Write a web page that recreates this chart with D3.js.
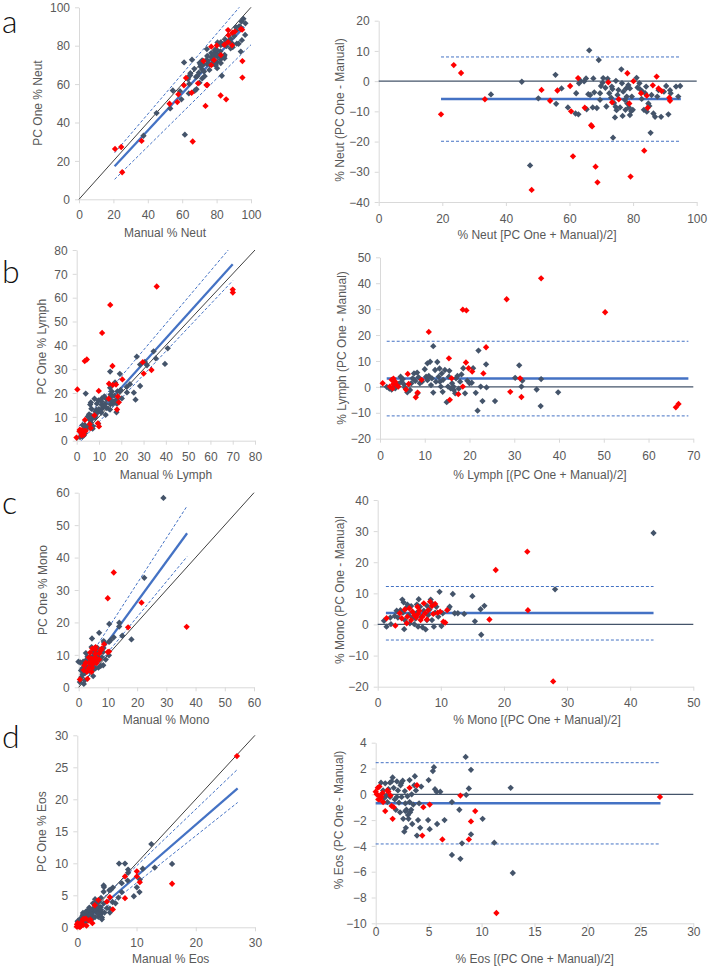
<!DOCTYPE html>
<html>
<head>
<meta charset="utf-8">
<script src="https://cdn.jsdelivr.net/npm/d3@7"></script>
<style>
  body { margin: 0; background: #fff; }
  svg text { font-family: "Liberation Sans", Arial, sans-serif; fill: #595959; }
</style>
</head>
<body>
<div id="chart"></div>
<script>
// Bland-Altman points, [mean, PC One - Manual].
// The scatter plots on the left use the same pairs.
const neutDark = [[35.3,-4.4],[45.0,-0.2],[47.6,-27.9],[50.2,-5.7],[55.6,2.1],[55.8,-7.5],[57.5,-2.4],[59.5,-8.7],[62.1,-4.0],[61.9,-10.7],[62.8,-11.0],[63.0,-0.7],[63.5,0.1],[64.6,-0.1],[65.2,0.9],[65.4,-9.3],[65.9,-4.3],[66.2,10.2],[66.5,-4.6],[67.3,-8.7],[67.5,0.9],[67.8,-3.7],[68.6,-8.9],[69.2,7.0],[69.6,-4.0],[69.9,-1.6],[70.4,-0.5],[70.6,1.0],[71.3,-2.2],[71.6,-8.4],[72.0,0.8],[72.5,-4.0],[73.1,-5.5],[73.5,-2.6],[73.7,-18.7],[74.0,-7.2],[74.3,-12.0],[74.5,-8.5],[74.6,0.1],[75.1,-4.6],[75.4,-2.9],[75.9,-8.7],[76.3,3.9],[76.5,-0.7],[76.7,-11.5],[76.9,-3.5],[77.4,-6.2],[77.6,-9.5],[77.8,-2.4],[78.0,-5.1],[78.2,-7.4],[78.5,-1.3],[78.7,-8.7],[79.0,-11.2],[79.4,-9.9],[79.6,-5.1],[79.9,-9.5],[81.1,1.1],[81.4,-2.1],[82.0,-0.7],[82.2,-2.7],[82.7,-5.9],[83.0,-3.5],[83.4,-9.5],[83.8,-4.0],[84.1,-1.8],[84.8,-7.4],[85.1,-8.2],[85.5,-17.1],[85.8,-4.6],[86.4,-10.7],[86.9,-11.8],[87.6,-5.1],[88.0,-3.0],[88.8,-11.8],[90.4,-1.6],[91.1,-11.0],[91.6,-3.0],[91.8,-4.0],[93.5,-1.8],[94.2,-5.1],[94.8,-1.6],[73.3,-1.8],[69.6,-6.2],[74.8,-9.6],[79.0,-2.4],[84.3,-10.1],[89.7,-3.5]];
const neutRed = [[19.6,-11.0],[23.6,5.3],[25.9,2.7],[33.4,-6.0],[48.1,-36.0],[51.2,-2.9],[53.9,-6.5],[56.2,-3.1],[60.2,-1.6],[60.5,-10.0],[61.1,-24.9],[62.7,1.0],[64.8,-8.8],[66.8,-14.6],[67.1,-15.0],[68.2,-28.3],[68.8,-33.5],[72.2,-0.4],[73.4,-7.0],[75.5,-6.0],[78.2,2.6],[78.8,-7.4],[79.2,-31.6],[80.1,0],[82.5,-4.0],[83.5,-23.0],[84.3,-4.8],[84.6,-8.8],[86.2,-1.4],[87.4,1.5],[88.0,-2.4],[89.0,-3.3],[91.4,-5.5],[91.6,-6.5]];

const lymphDark = [[1.5,0],[2.1,-0.7],[2.6,-1.0],[3.4,-0.6],[4.1,1.1],[4.6,3.9],[4.8,2.0],[5.1,3.0],[5.4,0.9],[5.6,-0.3],[6.1,-2.1],[6.7,-1.2],[7.0,1.4],[7.6,5.2],[7.9,2.3],[8.3,5.5],[8.6,3.7],[8.9,1.4],[9.4,2.0],[10.0,6.8],[10.3,3.9],[10.6,9.1],[10.9,4.2],[11.2,9.7],[11.4,0.7],[11.6,3.3],[11.9,15.7],[11.9,-2.2],[12.3,6.5],[12.5,2.0],[12.8,9.6],[13.1,3.9],[13.3,7.1],[13.6,0.1],[13.8,5.2],[14.0,-1.9],[14.1,2.7],[14.5,6.5],[14.9,-5.9],[15.2,0.1],[15.4,3.9],[15.5,6.2],[15.8,-0.6],[16.1,1.4],[16.4,0.1],[16.5,-1.2],[16.8,-2.5],[17.0,3.3],[17.3,4.2],[17.6,-0.7],[18.2,4.8],[18.6,7.2],[19.0,-2.5],[19.5,2.4],[20.0,1.4],[20.5,1.6],[20.8,7.2],[21.4,-2.3],[21.8,-9.2],[22.0,14.0],[22.5,0.1],[22.9,-5.5],[23.7,8.7],[23.8,-0.2],[25.7,-5.5],[30.2,3.5],[31.1,8.3],[31.6,0.1],[31.8,2.4],[35.0,-1.0],[35.9,-7.4],[36.0,3.0],[39.8,-2.1],[3.6,0.3],[8.4,-2.5],[10.6,2.6],[7.3,3.3],[13.4,2.0],[17.9,2.0]];
const lymphRed = [[0.6,1.4],[3.0,1.1],[2.6,2.7],[2.2,0.1],[3.4,2.0],[3.7,0.7],[2.8,-0.6],[4.1,0.1],[6.2,5.0],[5.8,-1.0],[6.4,1.1],[8.0,-4.0],[8.4,-2.2],[9.3,2.7],[10.9,21.2],[15.4,11.0],[15.6,-5.0],[16.0,3.3],[18.5,29.8],[19.3,29.5],[18.5,0.1],[19.2,9.4],[19.8,7.2],[20.6,5.9],[17.5,-2.8],[23.1,5.2],[23.7,15.3],[28.3,33.8],[29.1,-1.9],[31.3,3.3],[31.6,-3.9],[36.0,41.9],[50.3,28.8],[66.1,-7.9],[66.7,-6.6],[3.0,3.2]];

const monoDark = [[1.0,1.2],[1.4,-0.7],[2.0,2.2],[2.7,2.7],[3.0,4.4],[3.2,2.2],[3.6,4.6],[3.9,8.0],[4.1,7.1],[4.2,-1.5],[4.3,1.4],[4.5,5.2],[4.7,6.4],[4.9,3.0],[5.1,0.4],[5.3,5.9],[5.5,4.1],[5.8,0.1],[6.0,1.9],[6.2,3.8],[6.4,-0.7],[6.5,8.1],[6.7,5.7],[6.9,2.5],[7.1,-0.9],[7.3,4.4],[7.6,-1.6],[7.8,6.0],[8.0,3.0],[8.2,4.8],[8.4,8.0],[8.6,1.4],[8.7,6.6],[8.9,-0.7],[9.1,3.8],[9.3,5.7],[9.6,2.5],[9.8,10.5],[10.1,-0.5],[10.3,3.6],[11.2,5.0],[11.4,5.7],[11.9,9.8],[12.2,3.6],[12.7,3.6],[13.7,3.4],[15.0,9.1],[15.4,1.0],[16.3,4.9],[16.4,-3.3],[16.9,6.0],[28.1,11.3],[43.7,29.4],[2.1,0.1],[6.2,6.4],[5.5,2.3],[4.0,3.8],[7.8,1.4]];
const monoRed = [[1.4,2.0],[2.8,-0.4],[3.5,3.6],[3.8,2.0],[4.3,4.8],[4.7,2.5],[5.0,5.2],[5.3,1.4],[5.5,4.1],[5.8,3.0],[6.1,2.3],[6.3,5.7],[6.6,4.4],[6.8,1.4],[7.1,2.5],[7.3,6.8],[7.5,3.6],[7.8,1.6],[8.0,4.6],[8.3,7.3],[8.6,5.9],[8.8,3.4],[9.1,6.6],[9.5,3.8],[9.9,4.1],[10.4,0.9],[10.7,0.6],[11.0,4.6],[17.7,1.6],[18.7,17.5],[23.7,23.4],[23.8,4.6],[27.8,-18.3],[4.6,0.4],[6.4,3.4]];

const eosDark = [[0.5,0.9],[0.7,0.3],[0.9,0.85],[1.0,-0.1],[1.1,-0.6],[1.2,0.4],[1.35,0.9],[1.5,1.0],[1.6,1.3],[1.7,0.5],[1.8,-0.4],[1.9,-1.2],[2.0,1.0],[2.1,0.3],[2.2,-0.65],[2.3,-1.4],[2.4,0.85],[2.45,-0.2],[2.55,1.05],[2.6,-1.9],[2.7,-2.9],[2.75,0.25],[2.8,-0.7],[2.85,-2.6],[2.9,-1.2],[3.0,-0.15],[3.05,-1.6],[3.1,-1.9],[3.2,-0.6],[3.25,-1.4],[3.35,-1.2],[3.45,-2.3],[3.55,-0.8],[3.65,0.7],[3.7,1.4],[3.8,0.3],[3.9,-3.2],[4.0,-2.0],[4.1,-0.7],[4.2,-2.6],[4.3,0.6],[5.0,1.1],[4.95,-2.0],[5.1,-2.7],[5.4,1.8],[5.5,2.1],[5.6,0.4],[5.75,0.2],[5.8,-2.3],[6.1,0.2],[6.5,-2.0],[7.2,-0.6],[7.2,-4.7],[7.9,-1.2],[8.0,-5.0],[8.15,-3.8],[8.5,2.9],[8.55,-0.05],[8.8,0.45],[9.0,1.9],[9.0,-3.1],[10.1,-1.9],[11.2,-3.75],[12.75,0.5],[12.95,-6.1],[2.35,0.7],[2.0,-0.2],[3.2,1.1],[3.4,0.0],[2.8,-1.3],[1.35,-0.2],[0.8,-0.3]];
const eosRed = [[0,0.2],[0.1,0],[0.2,0.5],[0.3,-0.1],[0.35,0.6],[0.4,-0.4],[0.55,-0.2],[0.7,-0.6],[0.9,-1.3],[1.1,0.3],[1.2,0.2],[1.4,-0.1],[1.5,-0.9],[1.6,-1.9],[1.7,-1.0],[3.2,0.5],[3.9,0.7],[4.4,-3.2],[4.5,-1.0],[5.1,-0.8],[6.3,-3.5],[8.0,-0.1],[8.8,-3.5],[9.0,-2.1],[9.4,-1.3],[11.4,-9.2],[26.85,-0.2],[0.25,-0.4],[0.65,0.1]];

// fitted line and dashed band on the scatter plots, [x1, y1, x2, y2]
const neutFit = [[20.7,17.2,96,89.8],[20.7,24.2,93.2,100],[20.7,10.4,100,80.5]];
const lymphFit = [[1,2.5,70,74],[1,6,68,80],[2,0,70,67.1]];
const monoFit = [[1,3,37.1,47.5],[1,5.5,37.1,55.9],[1,1,37.1,40.3]];
const eosFit = [[0.3,0.2,27.07,21.7],[0.3,1,27.07,24.7],[1,0.3,27.07,19.5]];

// Bland-Altman: [mean bias, upper limit, lower limit, line start, line end]
const neutLimits = [-5.9, 8.0, -19.9, 19.6, 95];
const lymphLimits = [3.2, 17.6, -11.2, 1.5, 68.9];
const monoLimits = [3.7, 12.2, -5.0, 1.3, 43.7];
const eosLimits = [-0.7, 2.45, -3.85, 0, 26.9];

// tick values
const neutTicks = [0, 20, 40, 60, 80, 100];
const neutDiffTicks = [-40, -30, -20, -10, 0, 10, 20];
const lymphTicks = [0, 10, 20, 30, 40, 50, 60, 70, 80];
const lymphMeanTicks = [0, 10, 20, 30, 40, 50, 60, 70];
const lymphDiffTicks = [-20, -10, 0, 10, 20, 30, 40, 50];
const monoTicks = [0, 10, 20, 30, 40, 50, 60];
const monoMeanTicks = [0, 10, 20, 30, 40, 50];
const monoDiffTicks = [-20, -10, 0, 10, 20, 30, 40];
const eosXTicks = [0, 10, 20, 30];
const eosYTicks = [0, 5, 10, 15, 20, 25, 30];
const eosMeanTicks = [0, 5, 10, 15, 20, 25, 30];
const eosDiffTicks = [-10, -8, -6, -4, -2, 0, 2, 4];

const DARK = "#44546a", RED = "#ff0000", BLUE = "#4472c4";

const svg = d3.select("#chart").append("svg").attr("width", 709).attr("height", 969);

const marker = d3.symbol().type(d3.symbolSquare).size(20);

function axesFor(g, x, y, xTicks, yTicks, xLabelOff) {
  const xa = g.append("g")
    .attr("transform", "translate(0," + y.range()[0] + ")")
    .call(d3.axisBottom(x).tickValues(xTicks).tickSize(4).tickSizeOuter(0));
  const ya = g.append("g")
    .attr("transform", "translate(" + x.range()[0] + ",0)")
    .call(d3.axisLeft(y).tickValues(yTicks).tickSize(4).tickSizeOuter(0));
  [xa, ya].forEach((a) => {
    a.select(".domain").attr("stroke", "#d9d9d9");
    a.selectAll(".tick line").attr("stroke", "#d9d9d9");
    a.attr("font-family", null).attr("font-size", null);
    a.selectAll("text").style("font-size", "12px").attr("fill", "#595959");
  });
  xa.selectAll("text").attr("y", xLabelOff).attr("dy", "0.35em");
  ya.selectAll("text").attr("x", -9).attr("dy", "0.35em");
}

function dots(g, pts, color) {
  g.append("g").selectAll("path").data(pts).enter().append("path")
    .attr("d", marker)
    .attr("fill", color)
    .attr("transform", (d) => "translate(" + d[0] + "," + d[1] + ")rotate(45)");
}

function seg(g, x, y, s, color, w, dash) {
  g.append("line")
    .attr("x1", x(s[0])).attr("y1", y(s[1]))
    .attr("x2", x(s[2])).attr("y2", y(s[3]))
    .attr("stroke", color).attr("stroke-width", w)
    .attr("stroke-dasharray", dash || null);
}

function titles(g, xt, yt) {
  g.append("text").attr("x", xt[1]).attr("y", xt[2]).attr("dy", "0.35em")
    .attr("text-anchor", "middle").style("font-size", "12px").text(xt[0]);
  g.append("text").attr("transform", "translate(" + yt[1] + "," + yt[2] + ")rotate(-90)")
    .attr("dy", "0.35em").attr("text-anchor", "middle").style("font-size", "12px").text(yt[0]);
}

// left column: PC One vs Manual
function scatterPanel(p) {
  const g = svg.append("g");
  const x = d3.scaleLinear().domain([0, p.max[0]]).range(p.xr);
  const y = d3.scaleLinear().domain([0, p.max[1]]).range(p.yr);
  axesFor(g, x, y, p.xTicks, p.yTicks, p.xOff);
  const m = Math.min(p.max[0], p.max[1]);
  seg(g, x, y, [0, 0, m, m], "#404040", 1);
  seg(g, x, y, p.fit[1], BLUE, 1, "3,2");
  seg(g, x, y, p.fit[2], BLUE, 1, "3,2");
  seg(g, x, y, p.fit[0], BLUE, 2.25);
  const toXY = (d) => [x(d[0] - d[1] / 2), y(d[0] + d[1] / 2)];
  dots(g, p.dark.map(toXY), DARK);
  dots(g, p.red.map(toXY), RED);
  titles(g, p.xTitle, p.yTitle);
  g.append("text").attr("x", 2).attr("y", p.letterY)
    .style("font-size", "32px").style("font-family", "Lato, 'Open Sans', sans-serif")
    .style("font-weight", 300).style("fill", "#111").text(p.letter);
}

// right column: Bland-Altman
function baPanel(p) {
  const g = svg.append("g");
  const x = d3.scaleLinear().domain(p.xd).range(p.xr);
  const y = d3.scaleLinear().domain(p.yd).range(p.yr);
  axesFor(g, x, y, p.xTicks, p.yTicks, p.xOff);
  const L = p.lim;
  seg(g, x, y, [p.xd[0], 0, p.xd[1], 0], "#44546a", 1.25);
  seg(g, x, y, [L[3], L[1], L[4], L[1]], BLUE, 1, "3,2");
  seg(g, x, y, [L[3], L[2], L[4], L[2]], BLUE, 1, "3,2");
  seg(g, x, y, [L[3], L[0], L[4], L[0]], BLUE, 2.5);
  dots(g, p.dark.map((d) => [x(d[0]), y(d[1])]), DARK);
  dots(g, p.red.map((d) => [x(d[0]), y(d[1])]), RED);
  titles(g, p.xTitle, p.yTitle);
}

scatterPanel({ letter: "a", letterY: 33, max: [100, 100], xr: [79, 251], yr: [199.3, 7.3],
  xTicks: neutTicks, yTicks: neutTicks, xOff: 15.7, fit: neutFit, dark: neutDark, red: neutRed,
  xTitle: ["Manual % Neut", 165, 233], yTitle: ["PC One % Neut", 38, 103] });
baPanel({ xd: [0, 100], yd: [-40, 20], xr: [378.7, 696.7], yr: [202, 20.7],
  xTicks: neutTicks, yTicks: neutDiffTicks, xOff: 16.3, lim: neutLimits, dark: neutDark, red: neutRed,
  xTitle: ["% Neut [PC One + Manual)/2]", 537, 235], yTitle: ["% Neut (PC One - Manual)", 340, 110] });

scatterPanel({ letter: "b", letterY: 283, max: [80, 80], xr: [76.7, 255], yr: [440.7, 250],
  xTicks: lymphTicks, yTicks: lymphTicks, xOff: 16, fit: lymphFit, dark: lymphDark, red: lymphRed,
  xTitle: ["Manual % Lymph", 166, 475], yTitle: ["PC One % Lymph", 41.5, 346.7] });
baPanel({ xd: [0, 70], yd: [-20, 50], xr: [380, 693.3], yr: [438.7, 257.3],
  xTicks: lymphMeanTicks, yTicks: lymphDiffTicks, xOff: 16.7, lim: lymphLimits, dark: lymphDark, red: lymphRed,
  xTitle: ["% Lymph [(PC One + Manual)/2]", 540, 475], yTitle: ["% Lymph (PC One - Manual)", 341.5, 348] });

scatterPanel({ letter: "c", letterY: 514, max: [60, 60], xr: [78.7, 254], yr: [687.3, 492.7],
  xTicks: monoTicks, yTicks: monoTicks, xOff: 15.4, fit: monoFit, dark: monoDark, red: monoRed,
  xTitle: ["Manual % Mono", 166, 720], yTitle: ["PC One % Mono", 43, 590] });
baPanel({ xd: [0, 50], yd: [-20, 40], xr: [377.7, 693.3], yr: [686.7, 500],
  xTicks: monoMeanTicks, yTicks: monoDiffTicks, xOff: 16, lim: monoLimits, dark: monoDark, red: monoRed,
  xTitle: ["% Mono [(PC One + Manual)/2]", 537, 720], yTitle: ["% Mono (PC One - Manua)l", 340, 590] });

scatterPanel({ letter: "d", letterY: 748, max: [30, 30], xr: [77.3, 255], yr: [927.3, 735.3],
  xTicks: eosXTicks, yTicks: eosYTicks, xOff: 15.4, fit: eosFit, dark: eosDark, red: eosRed,
  xTitle: ["Manual % Eos", 170.7, 959], yTitle: ["PC One % Eos", 41.5, 831.7] });
baPanel({ xd: [0, 30], yd: [-10, 4], xr: [375.7, 693.3], yr: [923.3, 742.7],
  xTicks: eosMeanTicks, yTicks: eosDiffTicks, xOff: 8.7, lim: eosLimits, dark: eosDark, red: eosRed,
  xTitle: ["% Eos [(PC One + Manual)/2]", 534.7, 959], yTitle: ["% Eos (PC One - Manual)", 338.3, 820] });
</script>
</body>
</html>
